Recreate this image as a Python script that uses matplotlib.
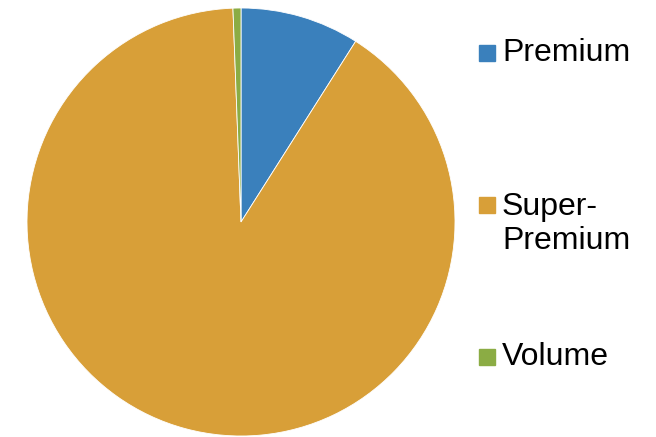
import matplotlib.pyplot as plt
from matplotlib.patches import Rectangle

labels = ['Premium', 'Super-\nPremium', 'Volume']
shares = [9.0, 90.4, 0.6]
colors = ['#3A80BC', '#D89F38', '#8BAC44']

fig = plt.figure(figsize=(6.56, 4.37), dpi=100)
plt.rcParams['font.family'] = ['Liberation Sans', 'DejaVu Sans']

# pie centre ~ (241, 222) px, radius ~214 px
cx, cy, r = 241, 222, 214
W, H = 656, 437
ax = fig.add_axes([(cx - r) / W, (H - cy - r) / H, 2 * r / W, 2 * r / H])
ax.pie(shares, colors=colors, startangle=90, counterclock=False,
       wedgeprops=dict(edgecolor='white', linewidth=0.6))
ax.set_xlim(-1, 1)
ax.set_ylim(-1, 1)

# legend drawn by hand to match spacing
sq_y = [53, 205, 357]
txt_y = [53, 224, 357]
for lab, col, ys, yt in zip(labels, colors, sq_y, txt_y):
    fig.patches.append(Rectangle((479 / W, (H - ys - 8) / H), 16 / W, 16 / H,
                                 transform=fig.transFigure, color=col))
    fig.text(502 / W, (H - yt) / H, lab, fontsize=23, va='center',
             ha='left', linespacing=1.17)

fig.savefig('out.png', dpi=100)
